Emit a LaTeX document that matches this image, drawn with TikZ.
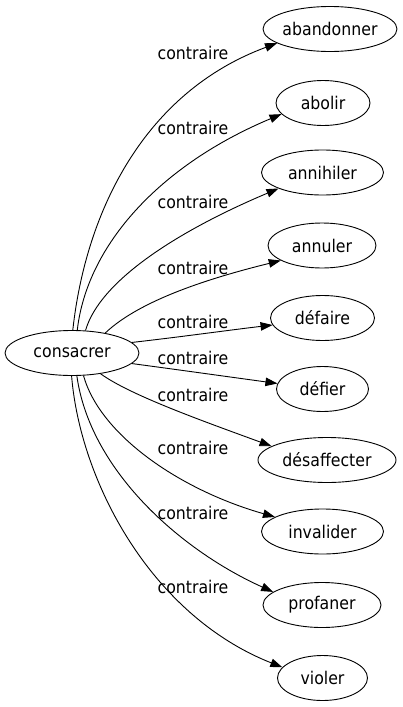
\documentclass[tikz,border=0pt]{standalone}
\usepackage{fontspec}
\setmainfont{DejaVu Sans Condensed}
\usetikzlibrary{arrows.meta,shapes.geometric}
\begin{document}
\begin{tikzpicture}[x=1pt,y=-1pt,
  txt/.style={font=\fontsize{17.5}{20}\selectfont, text=black},
  term/.style={txt, draw, line width=0.9pt, ellipse, inner sep=0pt, minimum height=45pt},
  lbl/.style={txt, inner sep=0pt},
  link/.style={draw, line width=0.9pt, -{Triangle[length=12pt,width=8.5pt]}}]
\useasboundingbox (0,0) rectangle (403,707);
% nodes
\node[term, minimum width=134pt] (c) at (72,353) {\makebox[0pt]{consacrer}};
\node[term, minimum width=134pt] (t1) at (330,29) {\makebox[0pt]{abandonner}};
\node[term, minimum width=94pt] (t2) at (323,103) {\makebox[0pt]{abolir}};
\node[term, minimum width=122pt] (t3) at (322.5,172.5) {\makebox[0pt]{annihiler}};
\node[term, minimum width=108pt] (t4) at (322,245.5) {\makebox[0pt]{annuler}};
\node[term, minimum width=104pt] (t5) at (322.5,318) {\makebox[0pt]{défaire}};
\node[term, minimum width=92pt] (t6) at (322.5,389) {\makebox[0pt]{défier}};
\node[term, minimum width=138pt] (t7) at (327,460) {\makebox[0pt]{désaffecter}};
\node[term, minimum width=122pt] (t8) at (322.5,531.5) {\makebox[0pt]{invalider}};
\node[term, minimum width=118pt] (t9) at (322,605) {\makebox[0pt]{profaner}};
\node[term, minimum width=90pt] (t10) at (322.5,678) {\makebox[0pt]{violer}};
% labels
\node[lbl] (l1) at (193,53) {contraire};
\node[lbl] (l2) at (193,128) {contraire};
\node[lbl] (l3) at (193,202) {contraire};
\node[lbl] (l4) at (193,268) {contraire};
\node[lbl] (l5) at (193,322) {contraire};
\node[lbl] (l6) at (193,358) {contraire};
\node[lbl] (l7) at (193,395) {contraire};
\node[lbl] (l8) at (193,448) {contraire};
\node[lbl] (l9) at (193,513) {contraire};
\node[lbl] (l10) at (193,587) {contraire};
% edges
\draw[link] (c.88) .. controls (86,210) and (145,92) .. (t1.195);
\draw[link] (c.77) .. controls (87,245) and (160,165) .. (t2.195);
\draw[link] (c.59) .. controls (100,280) and (180,230) .. (t3.200);
\draw[link] (c.31) .. controls (140,300) and (210,278) .. (t4.200);
\draw[link] (c.10) .. controls (180,337) and (230,330) .. (t5.188);
\draw[link] (c.350) .. controls (180,370) and (230,377) .. (t6.173);
\draw[link] (c.324) .. controls (130,395) and (200,420) .. (t7.166);
\draw[link] (c.297) .. controls (100,435) and (180,490) .. (t8.163);
\draw[link] (c.282) .. controls (90,470) and (180,550) .. (t9.165);
\draw[link] (c.269) .. controls (80,480) and (150,615) .. (t10.165);
\end{tikzpicture}
\end{document}
